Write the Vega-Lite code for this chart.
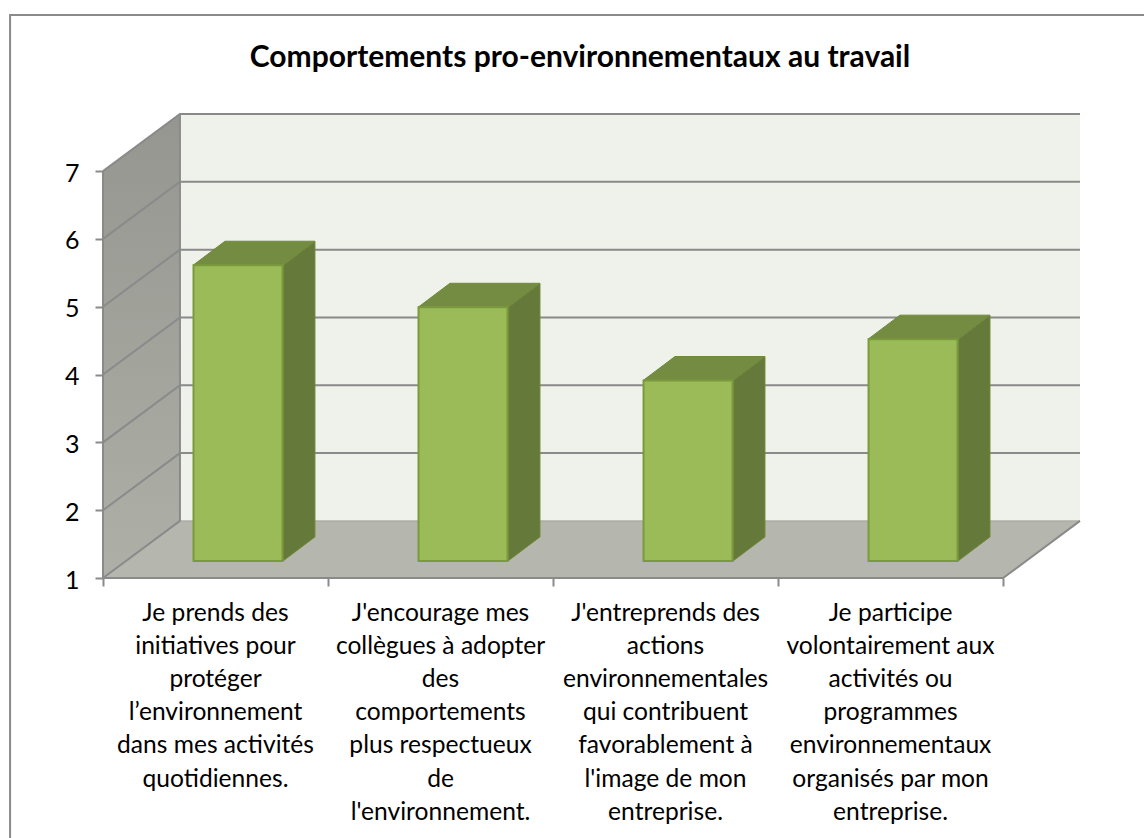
{
"$schema":"https://vega.github.io/schema/vega-lite/v6.json",
"width":1134,"height":824,
"autosize":{"type":"none"},
"padding":{"left":10,"top":14,"right":0,"bottom":0},
"background":"white",
"view":{"stroke":null},
"title":{"text":"Comportements pro-environnementaux au travail","anchor":"middle","frame":"group","offset":-60,"dx":3,"font":"Lato","fontWeight":"bold","fontSize":30,"color":"black"},
"config":{"text":{"font":"Lato"}},
"datasets":{
"bars":[
{"statement":"Je prends des\ninitiatives pour\nprotéger\nl’environnement\ndans mes activités\nquotidiennes.","pos":0.5,"value":5.36},
{"statement":"J'encourage mes\ncollègues à adopter\ndes\ncomportements\nplus respectueux\nde\nl'environnement.","pos":1.5,"value":4.74},
{"statement":"J'entreprends des\nactions\nenvironnementales\nqui contribuent\nfavorablement à\nl'image de mon\nentreprise.","pos":2.5,"value":3.66},
{"statement":"Je participe\nvolontairement aux\nactivités ou\nprogrammes\nenvironnementaux\norganisés par mon\nentreprise.","pos":3.5,"value":4.27}
],
"leftWall":[{"x":0,"low":1,"high":7},{"x":0.342,"low":1.842,"high":7.842}],
"backWall":[{"x":0.342,"low":1.842,"high":7.842},{"x":4.342,"low":1.842,"high":7.842}],
"floor":[{"x":0,"low":1,"high":1},{"x":0.342,"low":1,"high":1.842},{"x":4,"low":1,"high":1.842},{"x":4.342,"low":1.842,"high":1.842}],
"grid":[
{"level":2,"x":0,"y":2},{"level":2,"x":0.342,"y":2.842},{"level":2,"x":4.342,"y":2.842},
{"level":3,"x":0,"y":3},{"level":3,"x":0.342,"y":3.842},{"level":3,"x":4.342,"y":3.842},
{"level":4,"x":0,"y":4},{"level":4,"x":0.342,"y":4.842},{"level":4,"x":4.342,"y":4.842},
{"level":5,"x":0,"y":5},{"level":5,"x":0.342,"y":5.842},{"level":5,"x":4.342,"y":5.842},
{"level":6,"x":0,"y":6},{"level":6,"x":0.342,"y":6.842},{"level":6,"x":4.342,"y":6.842},
{"level":7,"x":0,"y":7},{"level":7,"x":0.342,"y":7.842},{"level":7,"x":4.342,"y":7.842}
],
"edges":[
{"edge":"left","seq":1,"x":0,"y":1},{"edge":"left","seq":2,"x":0,"y":7},
{"edge":"front","seq":1,"x":0,"y":1},{"edge":"front","seq":2,"x":4,"y":1},{"edge":"front","seq":3,"x":4.342,"y":1.842},
{"edge":"corner","seq":1,"x":0,"y":1},{"edge":"corner","seq":2,"x":0.342,"y":1.842},
{"edge":"back","seq":1,"x":0.342,"y":1.842},{"edge":"back","seq":2,"x":0.342,"y":7.842}
],
"floorBack":[{"x":0.342,"y":1.842},{"x":4.342,"y":1.842}],
"sides":[
{"bar":1,"x":0.8,"low":1.251,"high":5.611},{"bar":1,"x":0.942,"low":1.606,"high":5.966},
{"bar":2,"x":1.8,"low":1.251,"high":4.991},{"bar":2,"x":1.942,"low":1.606,"high":5.346},
{"bar":3,"x":2.8,"low":1.251,"high":3.911},{"bar":3,"x":2.942,"low":1.606,"high":4.266},
{"bar":4,"x":3.8,"low":1.251,"high":4.521},{"bar":4,"x":3.942,"low":1.606,"high":4.876}
],
"tops":[
{"bar":1,"x":0.4,"low":5.611,"high":5.611},{"bar":1,"x":0.542,"low":5.611,"high":5.966},{"bar":1,"x":0.8,"low":5.611,"high":5.966},{"bar":1,"x":0.942,"low":5.966,"high":5.966},
{"bar":2,"x":1.4,"low":4.991,"high":4.991},{"bar":2,"x":1.542,"low":4.991,"high":5.346},{"bar":2,"x":1.8,"low":4.991,"high":5.346},{"bar":2,"x":1.942,"low":5.346,"high":5.346},
{"bar":3,"x":2.4,"low":3.911,"high":3.911},{"bar":3,"x":2.542,"low":3.911,"high":4.266},{"bar":3,"x":2.8,"low":3.911,"high":4.266},{"bar":3,"x":2.942,"low":4.266,"high":4.266},
{"bar":4,"x":3.4,"low":4.521,"high":4.521},{"bar":4,"x":3.542,"low":4.521,"high":4.876},{"bar":4,"x":3.8,"low":4.521,"high":4.876},{"bar":4,"x":3.942,"low":4.876,"high":4.876}
]
},
"encoding":{
"x":{"field":"x","type":"quantitative","title":null,"scale":{"domain":[0,4.342],"range":[93,1070],"padding":0,"nice":false,"zero":false},"axis":{"values":[0,1,2,3,4],"labels":false,"domain":false,"grid":false,"ticks":true,"tickSize":8,"tickWidth":2,"tickColor":"#8a8a8a","offset":-260,"title":null}}
},
"layer":[
{"data":{"name":"leftWall"},"mark":{"type":"area","color":{"gradient":"linear","x1":0,"y1":0,"x2":0,"y2":1,"stops":[{"offset":0,"color":"#94968f"},{"offset":1,"color":"#aeb0a8"}]}},
 "encoding":{"y":{"field":"high","type":"quantitative","title":null,"scale":{"domain":[1,7.842],"range":[564,100],"nice":false,"zero":false},"axis":{"values":[1,2,3,4,5,6,7],"format":"d","domain":false,"grid":false,"tickSize":8,"tickWidth":2,"tickColor":"#8a8a8a","labelFont":"Lato","labelFontSize":25,"labelColor":"black","labelPadding":16,"labelOffset":2,"offset":-93,"title":null}},"y2":{"field":"low"}}},
{"data":{"name":"backWall"},"mark":{"type":"area","color":"#eff2eb"},"encoding":{"y":{"field":"high","type":"quantitative"},"y2":{"field":"low"}}},
{"data":{"name":"floor"},"mark":{"type":"area","color":"#b5b7af"},"encoding":{"y":{"field":"high","type":"quantitative"},"y2":{"field":"low"}}},
{"data":{"name":"floorBack"},"mark":{"type":"line","color":"#a0a29a","strokeWidth":1},"encoding":{"y":{"field":"y","type":"quantitative"}}},
{"data":{"name":"grid"},"mark":{"type":"line","color":"#8a8a8a","strokeWidth":2},"encoding":{"y":{"field":"y","type":"quantitative"},"detail":{"field":"level"}}},
{"data":{"name":"edges"},"mark":{"type":"line","color":"#8a8a8a","strokeWidth":2},"encoding":{"y":{"field":"y","type":"quantitative"},"detail":{"field":"edge"},"order":{"field":"seq"}}},
{"data":{"name":"sides"},"mark":{"type":"area","color":"#65793a","stroke":"#6f8a3a","strokeWidth":1},"encoding":{"y":{"field":"high","type":"quantitative"},"y2":{"field":"low"},"detail":{"field":"bar"}}},
{"data":{"name":"tops"},"mark":{"type":"area","color":"#748c42","stroke":"#6f8a3a","strokeWidth":1},"encoding":{"y":{"field":"high","type":"quantitative"},"y2":{"field":"low"},"detail":{"field":"bar"}}},
{"data":{"name":"bars"},"mark":{"type":"bar","width":89,"xOffset":22.5,"yOffset":-17,"y2Offset":-17,"color":"#9bbb59","stroke":"#7a9a3c","strokeWidth":2},"encoding":{"x":{"field":"pos","type":"quantitative"},"y":{"field":"value","type":"quantitative"},"y2":{"datum":1}}},
{"data":{"name":"bars"},"mark":{"type":"text","lineBreak":"\n","lineHeight":33.1,"align":"center","baseline":"top","dy":24,"font":"Lato","fontSize":24.6,"color":"black"},"encoding":{"x":{"field":"pos","type":"quantitative"},"y":{"datum":1},"text":{"field":"statement"}}},
{"data":{"values":[{"frameLeft":-0.413}]},"mark":{"type":"rule","color":"#8a8a8a","strokeWidth":2},"encoding":{"x":{"field":"frameLeft","type":"quantitative"}}},
{"data":{"values":[{"frameTop":9.3}]},"mark":{"type":"rule","color":"#8a8a8a","strokeWidth":2},"encoding":{"x":{"value":0},"x2":{"value":1134},"y":{"field":"frameTop","type":"quantitative"}}}
]
}
